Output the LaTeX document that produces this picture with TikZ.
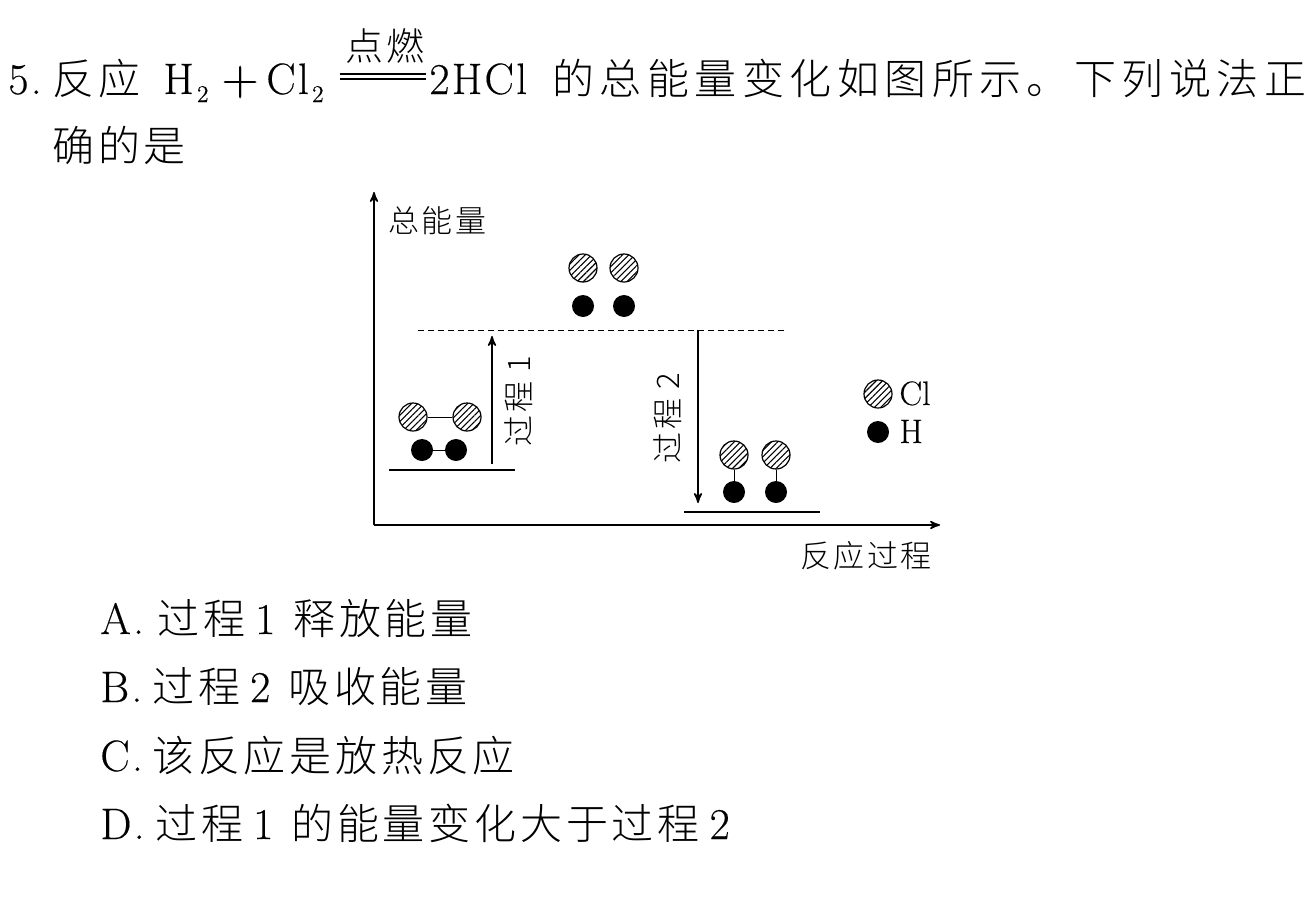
\documentclass[tikz,border=0pt]{standalone}
\usepackage{fontspec}
\usetikzlibrary{arrows,patterns.meta}
\newfontfamily\zhtext[LetterSpace=9]{Noto Sans CJK SC Light}
\newfontfamily\zhwide[LetterSpace=13]{Noto Sans CJK SC Light}
\newfontfamily\zhsmall[LetterSpace=8]{Noto Sans CJK SC Light}
\newfontfamily\lmwide[LetterSpace=5,FakeBold=0.3]{Latin Modern Roman}
\newfontfamily\lmplain[FakeBold=0.2]{Latin Modern Roman}
\newcommand{\gapa}{\hspace{5pt}}
\newcommand{\gapb}{\hspace{9pt}}
\newcommand{\subtwo}{\hspace{1.5pt}\raisebox{-4pt}{\fontsize{12}{12}\selectfont 2}}
\tikzset{
>=stealth',
  bigtext/.style={
    anchor=base west,
    inner sep=0pt,
    font=\fontsize{21}{24}\selectfont\zhtext},
  widetext/.style={
    bigtext,
    font=\fontsize{21}{24}\selectfont\zhwide},
  latintext/.style={
    bigtext,
    font=\fontsize{22}{24}\selectfont\lmwide},
  smalltext/.style={
    anchor=base west,
    inner sep=0pt,
    font=\fontsize{15.5}{18}\selectfont\zhsmall},
  steptext/.style={
    smalltext,
    anchor=base,
    rotate=90},
  keytext/.style={
    smalltext,
    font=\fontsize{17}{18}\selectfont\lmplain},
  clatom/.style={
    circle,
    draw=black, semithick,
    pattern={Lines[angle=45,distance=2.2pt,line width=0.55pt]},
    inner sep=0pt,
    minimum size=14pt},
  hatom/.style={
    circle,
    fill=black,
    inner sep=0pt,
    minimum size=11pt},
  bond/.style={draw, thin},
  axisline/.style={draw, thick, ->},
  level/.style={draw, semithick},
  stepline/.style={draw, thick, ->},
}
\begin{document}
\begin{tikzpicture}[x=0.5pt,y=-0.5pt]
  \useasboundingbox (0,0) rectangle (1311,921);
  % question text
  \node[latintext] (num) at (8,94) {5.};
  \node[bigtext] (rea) at (52,94) {反应};
  \node[latintext] (hyd) at (163,94) {H\subtwo};
  \node[latintext, font=\fontsize{26}{26}\selectfont\lmplain] (plus) at (221,95) {+};
  \node[latintext] (chl) at (266,94) {Cl\subtwo};
  \node[bigtext, font=\fontsize{19}{20}\selectfont\zhtext] (cond) at (345,60) {点燃};
  \coordinate (eqa) at (340,74);
  \coordinate (eqb) at (426,74);
  \coordinate (eqc) at (340,79);
  \coordinate (eqd) at (426,79);
  \draw[semithick] (eqa) -- (eqb);
  \draw[semithick] (eqc) -- (eqd);
  \node[latintext] (hcl) at (429,94) {2HCl};
  \node[widetext] (restone) at (552,94) {的总能量变化如图所示。下列说法正};
  \node[bigtext] (resttwo) at (52,161) {确的是};

  % axes
  \coordinate (orig) at (374,525);
  \coordinate (ytop) at (374,192);
  \coordinate (xend) at (940,525);
  \path[axisline] (orig) -- (ytop);
  \path[axisline] (orig) -- (xend);
  \node[smalltext] (ylab) at (388,232) {总能量};
  \node[smalltext] (xlab) at (800,567) {反应过程};

  % levels
  \coordinate (topa) at (418,330);
  \coordinate (topb) at (787,330);
  \draw[thin, densely dashed] (topa) -- (topb);
  \coordinate (lefta) at (389,470);
  \coordinate (leftb) at (515,470);
  \path[level] (lefta) -- (leftb);
  \coordinate (righta) at (684,512);
  \coordinate (rightb) at (820,512);
  \path[level] (righta) -- (rightb);

  % process arrows
  \coordinate (upa) at (492,464);
  \coordinate (upb) at (492,336);
  \path[stepline] (upa) -- (upb);
  \coordinate (downa) at (698,330);
  \coordinate (downb) at (698,503);
  \path[stepline] (downa) -- (downb);
  \node[steptext] (stepone) at (530,401) {过程 1};
  \node[steptext] (steptwo) at (679,418) {过程 2};

  % atoms on top
  \node[clatom] (cla) at (583,268) {};
  \node[clatom] (clb) at (624,268) {};
  \node[hatom] (ha) at (583,306) {};
  \node[hatom] (hb) at (624,306) {};

  % molecules on the left
  \node[clatom] (clc) at (413,417) {};
  \node[clatom] (cld) at (467,417) {};
  \node[hatom] (hc) at (422,450) {};
  \node[hatom] (hd) at (456,450) {};
  \path[bond] (clc) -- (cld);
  \path[bond] (hc) -- (hd);

  % molecules on the right
  \node[clatom] (cle) at (734,455) {};
  \node[clatom] (clf) at (776,455) {};
  \node[hatom] (he) at (734,492) {};
  \node[hatom] (hf) at (776,492) {};
  \path[bond] (cle) -- (he);
  \path[bond] (clf) -- (hf);

  % legend
  \node[clatom] (clkey) at (878,394) {};
  \node[hatom] (hkey) at (878,432) {};
  \node[keytext] (cllab) at (899,405) {Cl};
  \node[keytext] (hlab) at (899,443) {H};

  % options
  \node[latintext] (opa) at (100,634) {A.};
  \node[bigtext] (opatext) at (157,634) {过程\gapa{\fontsize{22}{24}\selectfont\lmwide 1}\gapb 释放能量};
  \node[latintext] (opb) at (100,702) {B.};
  \node[bigtext] (opbtext) at (152,702) {过程\gapa{\fontsize{22}{24}\selectfont\lmwide 2}\gapb 吸收能量};
  \node[latintext] (opc) at (100,771) {C.};
  \node[bigtext] (opctext) at (152,771) {该反应是放热反应};
  \node[latintext] (opd) at (100,839) {D.};
  \node[bigtext] (opdtext) at (155,839) {过程\gapa{\fontsize{22}{24}\selectfont\lmwide 1}\gapb 的能量变化大于过程\gapa{\fontsize{22}{24}\selectfont\lmwide 2}};
\end{tikzpicture}
\end{document}
